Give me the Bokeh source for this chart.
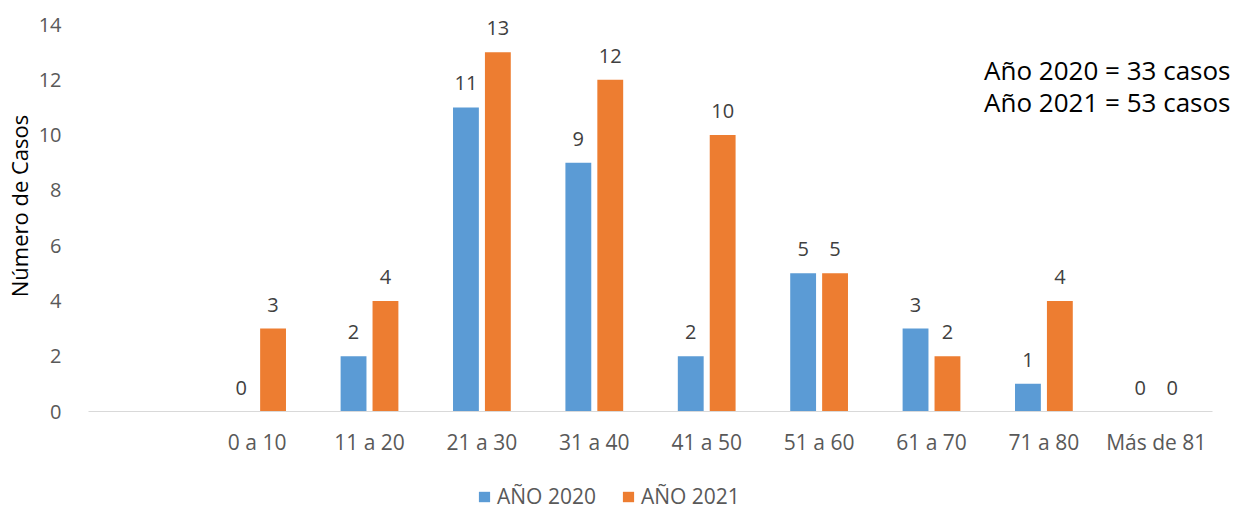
from bokeh.plotting import figure
from bokeh.layouts import column
from bokeh.models import (ColumnDataSource, Range1d, Legend, LegendItem, Label, FixedTicker)
from bokeh.transform import dodge
from bokeh.core.properties import value
from bokeh.embed import file_html
from bokeh.resources import INLINE

categories = ["", "0 a 10", "11 a 20", "21 a 30", "31 a 40", "41 a 50", "51 a 60", "61 a 70", "71 a 80", "Más de 81"]
y2020 = [None, 0, 2, 11, 9, 2, 5, 3, 1, 0]
y2021 = [None, 3, 4, 13, 12, 10, 5, 2, 4, 0]
series_names = ["AÑO 2020", "AÑO 2021"]
notes = ["Año 2020 = 33 casos", "Año 2021 = 53 casos"]
y_ticks = [0, 2, 4, 6, 8, 10, 12, 14]

BLUE = "#5B9BD5"
ORANGE = "#ED7D31"
FONT = "Open Sans"

n = len(categories)
pos = list(range(n))
src = ColumnDataSource(dict(
    x=pos[1:],
    a=y2020[1:],
    b=y2021[1:],
    la=[str(v) for v in y2020[1:]],
    lb=[str(v) for v in y2021[1:]],
))

AXIS_PX = 1124                 # pixel length of the category axis
EXTRA_PX = 26                  # frame room to the right of the axis (for the note)
unit = AXIS_PX / n
Y_PX = 387                     # pixel height of the 0..14 value axis
TOP_PX = 24                    # frame room above 14 (for the top data label)
yunit = Y_PX / 14

p = figure(x_range=Range1d(-0.5, n - 0.5 + EXTRA_PX / unit),
           y_range=Range1d(0, 14 + TOP_PX / yunit),
           frame_width=AXIS_PX + EXTRA_PX, frame_height=Y_PX + TOP_PX,
           output_backend="svg", toolbar_location=None,
           min_border_left=80, min_border_right=0, min_border_top=0, min_border_bottom=57)
p.outline_line_color = None
p.grid.grid_line_color = None

off = 0.142
bw = 0.23
r1 = p.vbar(x=dodge("x", -off), top="a", width=bw, source=src, fill_color=BLUE, line_color=None)
r2 = p.vbar(x=dodge("x", off), top="b", width=bw, source=src, fill_color=ORANGE, line_color=None)

for col, lab, o in [("a", "la", -off), ("b", "lb", off)]:
    p.text(x=dodge("x", o), y=col, text=lab, source=src,
           text_align="center", text_baseline="middle", y_offset=-24,
           text_font=value(FONT), text_font_size="20px", text_color="#404040")

# x axis
p.xaxis.bounds = (-0.5, n - 0.5)
p.xaxis.ticker = FixedTicker(ticks=pos)
p.xaxis.major_label_overrides = {i: c for i, c in enumerate(categories)}
p.xaxis.axis_line_color = "#d9d9d9"
p.xaxis.major_tick_line_color = None
p.xaxis.minor_tick_line_color = None
p.xaxis.major_label_text_font = FONT
p.xaxis.major_label_text_font_size = "21px"
p.xaxis.major_label_text_color = "#595959"
p.xaxis.major_label_standoff = 10

# y axis
p.yaxis.ticker = FixedTicker(ticks=y_ticks)
p.yaxis.axis_line_color = None
p.yaxis.major_tick_line_color = None
p.yaxis.minor_tick_line_color = None
p.yaxis.major_label_text_font = FONT
p.yaxis.major_label_text_font_size = "20px"
p.yaxis.major_label_text_color = "#595959"
p.yaxis.major_label_standoff = 21
p.yaxis.axis_label = "Número de Casos"
p.yaxis.axis_label_text_font = FONT
p.yaxis.axis_label_text_font_size = "22px"
p.yaxis.axis_label_text_font_style = "normal"
p.yaxis.axis_label_text_color = "#000000"
p.yaxis.axis_label_standoff = 2

# notes at top right
for txt, yy in zip(notes, [12.34, 11.18]):
    p.add_layout(Label(x=n - 0.5 + 18 / unit, y=yy, text=txt, text_align="right",
                       text_baseline="middle",
                       text_font=FONT, text_font_size="26px", text_color="#000000"))

# legend strip below (its frame is aligned with the chart's frame)
p2 = figure(width=80 + AXIS_PX + EXTRA_PX, height=42, x_range=Range1d(-0.5, n - 0.5),
            y_range=Range1d(20, 21),
            x_axis_type=None, y_axis_type=None, output_backend="svg", toolbar_location=None,
            min_border=0)
p2.outline_line_color = None
p2.grid.grid_line_color = None
d1 = p2.vbar(x="x", top="a", width=bw, source=src, fill_color=BLUE, line_color=None)
d2 = p2.vbar(x="x", top="b", width=bw, source=src, fill_color=ORANGE, line_color=None)
legend = Legend(items=[LegendItem(label=series_names[0], renderers=[d1]),
                       LegendItem(label=series_names[1], renderers=[d2])],
                orientation="horizontal", location=(389, 0),
                label_text_font=FONT, label_text_font_size="21px", label_text_color="#595959",
                glyph_width=14, glyph_height=13, spacing=25, label_standoff=6, label_height=13,
                border_line_color=None, background_fill_alpha=0, margin=0, padding=0)
p2.add_layout(legend)

layout = column(p, p2, spacing=0)
open("out.html", "w").write(file_html(layout, INLINE))
